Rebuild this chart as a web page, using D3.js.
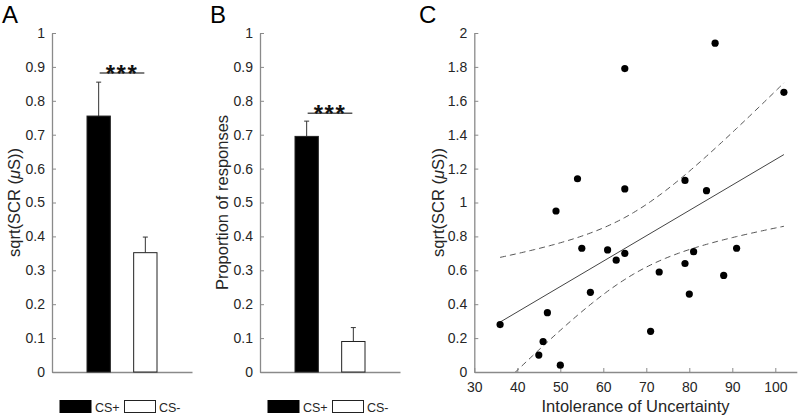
<!DOCTYPE html>
<html><head><meta charset="utf-8">
<script src="https://cdn.jsdelivr.net/npm/d3@7"></script>
<style>body{margin:0;background:#fff}svg{display:block;font-family:"Liberation Sans",Arial,sans-serif}</style>
</head><body><svg id="c" width="800" height="419"></svg>
<script>
// Data
const conditions = ["CS+", "CS-"];
const scrMeans = [0.755, 0.352];
const scrErr = [0.100, 0.046];
const propMeans = [0.695, 0.090];
const propErr = [0.045, 0.041];
const barTicks = [0, 0.1, 0.2, 0.3, 0.4, 0.5, 0.6, 0.7, 0.8, 0.9, 1];
const iuScores = [36, 45, 46, 47, 49, 50, 54, 55, 57, 61, 63, 65, 65, 65, 71, 73, 79, 79, 80, 81, 84, 86, 88, 91, 102];
const scrValues = [0.28, 0.10, 0.18, 0.35, 0.95, 0.04, 1.14, 0.73, 0.47, 0.72, 0.66, 0.70, 1.08, 1.79, 0.24, 0.59, 0.64, 1.13, 0.46, 0.71, 1.07, 1.94, 0.57, 0.73, 1.65];
const scatterXTicks = [30, 40, 50, 60, 70, 80, 90, 100];
const scatterYTicks = [0, 0.2, 0.4, 0.6, 0.8, 1, 1.2, 1.4, 1.6, 1.8, 2];

const svg = d3.select("#c");
const axisCol = "#8a8a8a", textCol = "#262626";
const yTop = 33, yBot = 372;
const labelSize = "16.5px";

function styleAxis(g) {
  g.selectAll("path.domain").attr("stroke", axisCol).attr("stroke-width", 1.3);
  g.selectAll(".tick line").attr("stroke", axisCol);
  g.selectAll(".tick text").attr("fill", textCol).style("font-size", "14px").style("font-family", "Liberation Sans, Arial, sans-serif");
}

function barPanel(x0, x1, means, errs, label, letter, letterX, labelX, sig) {
  const x = d3.scaleLinear().domain([0, 3]).range([x0, x1]);
  const y = d3.scaleLinear().domain([0, 1]).range([yBot, yTop]);
  const g = svg.append("g");
  const ya = g.append("g").attr("transform", `translate(${x0},0)`)
    .call(d3.axisLeft(y).tickValues(barTicks).tickFormat(d => d3.format("")(+d.toFixed(1))).tickSizeInner(-4).tickSizeOuter(0).tickPadding(7));
  styleAxis(ya);
  const xa = g.append("g").attr("transform", `translate(0,${yBot})`)
    .call(d3.axisBottom(x).tickValues([]).tickSizeOuter(0));
  styleAxis(xa);
  const bw = x(0.5) - x(0);
  means.forEach((m, i) => {
    const cx = x(i + 1);
    g.append("line").attr("x1", cx).attr("x2", cx).attr("y1", y(m)).attr("y2", y(m + errs[i])).attr("stroke", "#333").attr("stroke-width", 1);
    g.append("line").attr("x1", cx - 2.5).attr("x2", cx + 2.5).attr("y1", y(m + errs[i])).attr("y2", y(m + errs[i])).attr("stroke", "#333").attr("stroke-width", 1);
    g.append("rect").attr("x", cx - bw / 2).attr("width", bw).attr("y", y(m)).attr("height", y(0) - y(m))
      .attr("fill", i === 0 ? "#000" : "#fff").attr("stroke", "#222").attr("stroke-width", 1);
  });
  const sy = y(sig);
  g.append("line").attr("x1", x(1) + 1).attr("x2", x(2) - 1).attr("y1", sy).attr("y2", sy).attr("stroke", "#555").attr("stroke-width", 1.5);
  g.append("text").attr("x", (x(1) + x(2)) / 2).attr("y", sy + 9).attr("text-anchor", "middle")
    .style("font-size", "24px").style("font-weight", "bold").style("letter-spacing", "1.5px").attr("fill", "#111").text("***");
  const yl = g.append("text").attr("transform", `translate(${labelX},${(yTop + yBot) / 2}) rotate(-90)`)
    .attr("text-anchor", "middle").attr("fill", textCol).style("font-size", labelSize);
  if (label === "scr") {
    yl.append("tspan").text("sqrt(SCR (");
    yl.append("tspan").style("font-style", "italic").text("\u03bc");
    yl.append("tspan").text("S))");
  } else yl.text(label);
  svg.append("text").attr("x", letterX).attr("y", 23).style("font-size", "24px").attr("fill", "#000").text(letter);
  const lx = x0 + 8;
  const leg = g.append("g");
  leg.append("rect").attr("x", lx).attr("y", 400.5).attr("width", 31).attr("height", 12).attr("fill", "#000").attr("stroke", "#000");
  leg.append("text").attr("x", lx + 35).attr("y", 412).style("font-size", "12.5px").attr("fill", textCol).text(conditions[0]);
  leg.append("rect").attr("x", lx + 64.5).attr("y", 400.5).attr("width", 31).attr("height", 12).attr("fill", "#fff").attr("stroke", "#222");
  leg.append("text").attr("x", lx + 99).attr("y", 412).style("font-size", "12.5px").attr("fill", textCol).text(conditions[1]);
}

barPanel(52, 192, scrMeans, scrErr, "scr", "A", 2, 20, 0.882);
barPanel(260, 400, propMeans, propErr, "Proportion of responses", "B", 210, 228, 0.763);

// Panel C
(function () {
  const x = d3.scaleLinear().domain([30, 105]).range([474.3, 796.8]);
  const y = d3.scaleLinear().domain([0, 2]).range([yBot, yTop]);
  const g = svg.append("g");
  const ya = g.append("g").attr("transform", `translate(${x.range()[0]},0)`)
    .call(d3.axisLeft(y).tickValues(scatterYTicks).tickFormat(d => +d.toFixed(1)).tickSizeInner(-4).tickSizeOuter(0).tickPadding(7));
  styleAxis(ya);
  const xa = g.append("g").attr("transform", `translate(0,${yBot})`)
    .call(d3.axisBottom(x).tickValues(scatterXTicks).tickSizeInner(-4).tickSizeOuter(0).tickPadding(10));
  styleAxis(xa);

  // least squares fit with 95% confidence band of the mean
  const n = iuScores.length;
  const mx = d3.mean(iuScores), my = d3.mean(scrValues);
  let sxx = 0, sxy = 0;
  iuScores.forEach((v, i) => { sxx += (v - mx) ** 2; sxy += (v - mx) * (scrValues[i] - my); });
  const b = sxy / sxx, a = my - b * mx;
  let sse = 0;
  iuScores.forEach((v, i) => { sse += (scrValues[i] - a - b * v) ** 2; });
  const s = Math.sqrt(sse / (n - 2));
  const t = 2.069;
  const xmin = d3.min(iuScores), xmax = d3.max(iuScores);
  const grid = d3.range(xmin, xmax + 0.01, 0.5);
  const hw = xv => t * s * Math.sqrt(1 / n + (xv - mx) ** 2 / sxx);
  g.append("clipPath").attr("id", "cc").append("rect")
    .attr("x", x(30)).attr("y", y(2)).attr("width", x(105) - x(30)).attr("height", y(0) - y(2));
  const line = d3.line().x(d => x(d[0])).y(d => y(d[1]));
  g.append("path").attr("clip-path", "url(#cc)").attr("d", line(grid.map(v => [v, a + b * v + hw(v)])))
    .attr("fill", "none").attr("stroke", "#555").attr("stroke-dasharray", "6,4").attr("stroke-width", 1);
  g.append("path").attr("clip-path", "url(#cc)").attr("d", line(grid.map(v => [v, a + b * v - hw(v)])))
    .attr("fill", "none").attr("stroke", "#555").attr("stroke-dasharray", "6,4").attr("stroke-width", 1);
  g.append("path").attr("d", line([[xmin, a + b * xmin], [xmax, a + b * xmax]]))
    .attr("fill", "none").attr("stroke", "#444").attr("stroke-width", 1);

  g.selectAll("circle").data(iuScores).join("circle")
    .attr("cx", d => x(d)).attr("cy", (d, i) => y(scrValues[i])).attr("r", 3.6).attr("fill", "#000");

  const yl = g.append("text").attr("transform", `translate(444,${(yTop + yBot) / 2}) rotate(-90)`)
    .attr("text-anchor", "middle").attr("fill", textCol).style("font-size", labelSize);
  yl.append("tspan").text("sqrt(SCR (");
  yl.append("tspan").style("font-style", "italic").text("\u03bc");
  yl.append("tspan").text("S))");
  g.append("text").attr("x", (x(30) + x(105)) / 2).attr("y", 412).attr("text-anchor", "middle")
    .attr("fill", textCol).style("font-size", labelSize).text("Intolerance of Uncertainty");
  svg.append("text").attr("x", 419).attr("y", 23).style("font-size", "24px").attr("fill", "#000").text("C");
})();
</script></body></html>
